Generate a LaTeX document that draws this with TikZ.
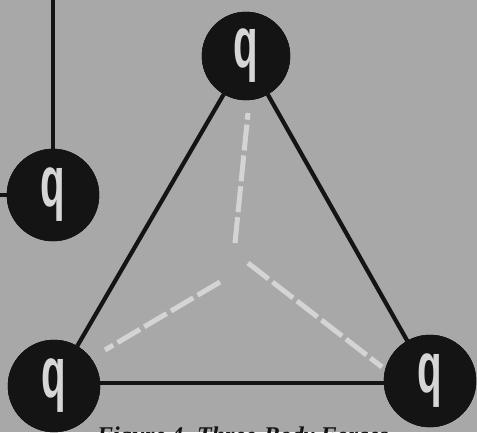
\documentclass[tikz,border=0pt]{standalone}
\usepackage{fontspec}
\setmainfont{Liberation Serif}
\newfontfamily\qfont{Liberation Sans}
\definecolor{paper}{HTML}{A8A8A8}
\definecolor{ink}{HTML}{141414}
\definecolor{qtext}{HTML}{D6D6D6}
\definecolor{faint}{HTML}{D4D4D4}
\begin{document}
\begin{tikzpicture}[x=1pt,y=-1pt,
  body/.style={circle,fill=ink,draw=ink,minimum size=#1,inner sep=0pt},
  qlabel/.style={text=qtext,font=\qfont\bfseries\fontsize{72}{72}\selectfont,xscale=0.56,inner sep=0pt},
  bond/.style={draw=ink,line width=4.2pt},
  force/.style={draw=faint,line width=5pt,dash pattern=on 26pt off 5pt}]
\clip (0,0) rectangle (477,432);
\fill[paper] (0,0) rectangle (477,432);
% coordinates
\coordinate (tp) at (53,0);
\coordinate (ls) at (0,195);
\coordinate (fu) at (248,113);
\coordinate (fc1) at (235,243);
\coordinate (fr0) at (248,263);
\coordinate (fr1) at (382,367);
\coordinate (fl0) at (220,282);
\coordinate (fl1) at (105,350);
% force lines
\draw[force] (fc1) -- (fu);
\draw[force] (fr0) -- (fr1);
\draw[force] (fl0) -- (fl1);
% nodes
\node[body=88pt] (top) at (246,56) {};
\node[body=92pt] (left) at (53,195) {};
\node[body=92pt] (bl) at (54,386) {};
\node[body=92pt] (br) at (430,381) {};
% bonds
\draw[bond] (tp) -- (left.north);
\draw[bond] (ls) -- (left.west);
\draw[bond] (top) -- (bl);
\draw[bond] (top) -- (br);
\draw[bond] (bl.east |- 0,383) -- (br.west |- 0,383);
% redraw bodies over bonds
\node[body=88pt] at (top) {};
\node[body=92pt] at (left) {};
\node[body=92pt] at (bl) {};
\node[body=92pt] at (br) {};
% labels
\node[qlabel] (qtop) at (top) {q};
\node[qlabel] (qleft) at (left) {q};
\node[qlabel] (qbl) at (bl) {q};
\node[qlabel] (qbr) at (br) {q};
% caption (cut at the lower edge, as in the reference)
\node[anchor=base west,font=\bfseries\itshape\fontsize{24}{24}\selectfont,text=ink,inner sep=0pt] (cap) at (97,443) {Figure 4. Three-Body Forces};
\end{tikzpicture}
\end{document}
